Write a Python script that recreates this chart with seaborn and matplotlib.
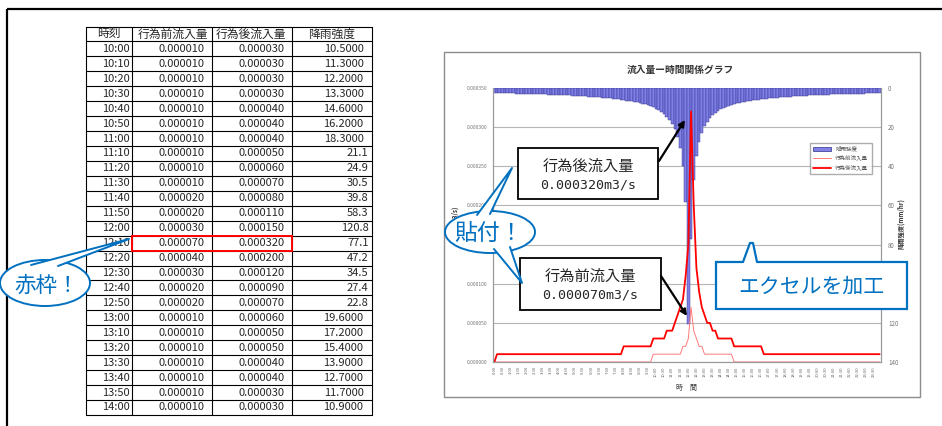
import numpy as np
import pandas as pd
import matplotlib
matplotlib.use("Agg")
import matplotlib.pyplot as plt
import seaborn as sns
from matplotlib.patches import Rectangle, Ellipse, Polygon, Patch
from matplotlib.lines import Line2D
from matplotlib.ticker import FormatStrFormatter

### Data

# table (10:00 - 14:00)
table_header = ["時刻", "行為前流入量", "行為後流入量", "降雨強度"]
table_times = ["10:00", "10:10", "10:20", "10:30", "10:40", "10:50", "11:00", "11:10",
               "11:20", "11:30", "11:40", "11:50", "12:00", "12:10", "12:20", "12:30",
               "12:40", "12:50", "13:00", "13:10", "13:20", "13:30", "13:40", "13:50", "14:00"]
table_before = ["0.000010"] * 10 + ["0.000020", "0.000020", "0.000030", "0.000070",
                "0.000040", "0.000030", "0.000020", "0.000020"] + ["0.000010"] * 7
table_after = ["0.000030", "0.000030", "0.000030", "0.000030", "0.000040", "0.000040",
               "0.000040", "0.000050", "0.000060", "0.000070", "0.000080", "0.000110",
               "0.000150", "0.000320", "0.000200", "0.000120", "0.000090", "0.000070",
               "0.000060", "0.000050", "0.000050", "0.000040", "0.000040", "0.000030",
               "0.000030"]
table_rain = ["10.5000", "11.3000", "12.2000", "13.3000", "14.6000", "16.2000", "18.3000",
              "21.1", "24.9", "30.5", "39.8", "58.3", "120.8", "77.1", "47.2", "34.5",
              "27.4", "22.8", "19.6000", "17.2000", "15.4000", "13.9000", "12.7000",
              "11.7000", "10.9000"]
highlight_row = 13  # 12:10

# chart: every 10 min, 0:00 - 23:50
slot_times = ["{}:{:02d}".format(h, m) for h in range(24) for m in range(0, 60, 10)]

rain = [
    2.6, 2.6, 2.7, 2.7, 2.7, 2.8, 2.8, 2.8, 2.9, 2.9, 2.9, 3.0,
    3.0, 3.1, 3.1, 3.1, 3.2, 3.2, 3.3, 3.3, 3.4, 3.4, 3.5, 3.5,
    3.6, 3.6, 3.7, 3.8, 3.8, 3.9, 4.0, 4.1, 4.1, 4.2, 4.3, 4.4,
    4.5, 4.6, 4.7, 4.8, 4.9, 5.0, 5.2, 5.3, 5.5, 5.6, 5.8, 6.0,
    6.2, 6.4, 6.6, 6.8, 7.1, 7.4, 7.7, 8.0, 8.4, 8.8, 9.3, 9.9,
    10.5, 11.3, 12.2, 13.3, 14.6, 16.2, 18.3, 21.1, 24.9, 30.5, 39.8, 58.3,
    120.8, 77.1, 47.2, 34.5, 27.4, 22.8, 19.6, 17.2, 15.4, 13.9, 12.7, 11.7,
    10.9, 10.2, 9.6, 9.1, 8.6, 8.2, 7.9, 7.5, 7.2, 7.0, 6.7, 6.5,
    6.3, 6.1, 5.9, 5.7, 5.5, 5.4, 5.3, 5.1, 5.0, 4.9, 4.8, 4.6,
    4.5, 4.4, 4.4, 4.3, 4.2, 4.1, 4.0, 4.0, 3.9, 3.8, 3.7, 3.7,
    3.6, 3.6, 3.5, 3.5, 3.4, 3.3, 3.3, 3.3, 3.2, 3.2, 3.1, 3.1,
    3.0, 3.0, 3.0, 2.9, 2.9, 2.9, 2.8, 2.8, 2.8, 2.7, 2.7, 2.7,
]

# flows in 1e-6 m3/s
flow_before_u = [
    0, 0, 0, 0, 0, 0, 0, 0, 0, 0, 0, 0,
    0, 0, 0, 0, 0, 0, 0, 0, 0, 0, 0, 0,
    0, 0, 0, 0, 0, 0, 0, 0, 0, 0, 0, 0,
    0, 0, 0, 0, 0, 0, 0, 0, 0, 0, 0, 0,
    0, 0, 0, 0, 0, 0, 0, 0, 0, 0, 0, 10,
    10, 10, 10, 10, 10, 10, 10, 10, 10, 10, 20, 20,
    30, 70, 40, 30, 20, 20, 10, 10, 10, 10, 10, 10,
    10, 10, 10, 10, 10, 0, 0, 0, 0, 0, 0, 0,
    0, 0, 0, 0, 0, 0, 0, 0, 0, 0, 0, 0,
    0, 0, 0, 0, 0, 0, 0, 0, 0, 0, 0, 0,
    0, 0, 0, 0, 0, 0, 0, 0, 0, 0, 0, 0,
    0, 0, 0, 0, 0, 0, 0, 0, 0, 0, 0, 0,
]
flow_after_u = [
    0, 10, 10, 10, 10, 10, 10, 10, 10, 10, 10, 10,
    10, 10, 10, 10, 10, 10, 10, 10, 10, 10, 10, 10,
    10, 10, 10, 10, 10, 10, 10, 10, 10, 10, 10, 10,
    10, 10, 10, 10, 10, 10, 10, 10, 10, 10, 10, 10,
    20, 20, 20, 20, 20, 20, 20, 20, 20, 20, 20, 30,
    30, 30, 30, 30, 40, 40, 40, 50, 60, 70, 80, 110,
    150, 320, 200, 120, 90, 70, 60, 50, 50, 40, 40, 30,
    30, 30, 30, 30, 30, 20, 20, 20, 20, 20, 20, 20,
    20, 20, 20, 20, 10, 10, 10, 10, 10, 10, 10, 10,
    10, 10, 10, 10, 10, 10, 10, 10, 10, 10, 10, 10,
    10, 10, 10, 10, 10, 10, 10, 10, 10, 10, 10, 10,
    10, 10, 10, 10, 10, 10, 10, 10, 10, 10, 10, 10,
]

df = pd.DataFrame({
    "slot": np.arange(len(slot_times)),
    "rain": rain,
    "before": np.array(flow_before_u) * 1e-6,
    "after": np.array(flow_after_u) * 1e-6,
})

### Style

sns.set_style("white")
plt.rcParams["font.family"] = ["Noto Sans CJK JP", "DejaVu Sans"]

W, H = 942, 426
BLUE = "#0070c0"
fig = plt.figure(figsize=(W / 100, H / 100), dpi=100)

## Chart (right)

ax_rain = fig.add_axes([493 / W, 1 - 362 / H, 388 / W, 274 / H])
sns.barplot(data=df, x="slot", y="rain", ax=ax_rain, color="#8080e6", saturation=1,
            width=1.0, edgecolor="#2e2e86", linewidth=0.3)
ax_rain.set_xlabel("")
ax_rain.set_ylabel("")

ax_flow = ax_rain.twinx()
sns.lineplot(data=df, x="slot", y="before", ax=ax_flow, color="#ff7a7a", lw=0.7)
sns.lineplot(data=df, x="slot", y="after", ax=ax_flow, color="#ff0000", lw=1.3)
ax_flow.set_xlabel("")
ax_flow.set_ylabel("")

# rain on the right (inverted), flow on the left
ax_rain.set_ylim(140, 0)
ax_rain.set_yticks(range(0, 141, 20))
ax_rain.yaxis.tick_right()
ax_rain.yaxis.grid(True, color="#b4b4b4", lw=0.8)
ax_rain.set_axisbelow(True)

ax_flow.set_ylim(0, 0.00035)
ax_flow.set_yticks(np.arange(0, 0.000351, 0.00005))
ax_flow.yaxis.set_major_formatter(FormatStrFormatter("%.6f"))
ax_flow.yaxis.tick_left()

ax_rain.set_xlim(-0.5, len(slot_times) - 0.5)
ax_rain.set_xticks(range(0, len(slot_times), 3))
ax_rain.set_xticklabels(slot_times[::3], rotation=90, fontsize=3, color="#666666")
ax_rain.tick_params(axis="x", length=2, width=0.4, color="#999999", pad=1)
ax_rain.tick_params(axis="y", labelsize=4.5, labelcolor="#777777", length=0, pad=5)
ax_flow.tick_params(axis="y", labelsize=3.6, labelcolor="#777777", length=0, pad=4)

for a in (ax_rain, ax_flow):
    for side, sp in a.spines.items():
        sp.set_color("#999999")
        sp.set_linewidth(0.8)
        sp.set_visible(side != "top")

handles = [Patch(facecolor="#8080e6", edgecolor="#2e2e86", lw=0.5),
           Line2D([], [], color="#ff7a7a", lw=0.7),
           Line2D([], [], color="#ff0000", lw=1.3)]
ax_flow.legend(handles, ["降雨強度", "行為前流入量", "行為後流入量"], loc="upper left",
               bbox_to_anchor=(807 / W, 1 - 140 / H), bbox_transform=fig.transFigure,
               fontsize=4, frameon=True, fancybox=False, edgecolor="#999999",
               handlelength=3.2, handleheight=0.6, borderpad=0.6, labelspacing=0.6,
               labelcolor="#555555")

fig.text(680 / W, 1 - 70 / H, "流入量ー時間関係グラフ", ha="center", va="center",
         fontsize=7, fontweight="bold", color="#333333")
fig.text(687 / W, 1 - 388 / H, "時　間", ha="center", va="center", fontsize=5,
         color="#333333")
fig.text(455 / W, 1 - 222 / H, "流量(m3/s)", ha="center", va="center", rotation=90,
         fontsize=4.5, fontweight="bold", color="#333333")
fig.text(901 / W, 1 - 224 / H, "降雨強度(mm/hr)", ha="center", va="center", rotation=90,
         fontsize=4.5, fontweight="bold", color="#333333")

## Overlay in pixel coordinates

ov = fig.add_axes([0, 0, 1, 1])
ov.set_xlim(0, W)
ov.set_ylim(H, 0)
ov.axis("off")
ov.set_zorder(10)
ov.patch.set_alpha(0)

# page frame
ov.plot([7, 7], [9, H], color="k", lw=1.6, solid_capstyle="butt")
ov.plot([7, W], [9, 9], color="k", lw=1.6, solid_capstyle="butt")

# chart frame
ov.add_patch(Rectangle((444, 52), 476, 345, fill=False, edgecolor="#8c8c8c", lw=1))

# table
col_x = [86, 131.7, 211.7, 291.7, 371.7]
top, row_h = 26.5, 14.94
n_rows = len(table_times) + 1
bottom = top + n_rows * row_h
for i in range(n_rows + 1):
    ov.plot([col_x[0], col_x[-1]], [top + i * row_h] * 2, color="k", lw=0.8)
for x in col_x:
    ov.plot([x, x], [top, bottom], color="k", lw=0.8)

head_cx = [108.8, 173, 250.5, 332]
for cx, t in zip(head_cx, table_header):
    ov.text(cx, top + 0.5 * row_h, t, ha="center", va="center", fontsize=8.5)
for i, (t, b, a, r) in enumerate(zip(table_times, table_before, table_after, table_rain)):
    cy = top + (i + 1.5) * row_h
    ov.text(129.5, cy, t, ha="right", va="center", fontsize=8)
    ov.text(204.5, cy, b, ha="right", va="center", fontsize=8)
    ov.text(284.5, cy, a, ha="right", va="center", fontsize=8)
    ov.text(363.5 if len(r) > 5 else 368.5, cy, r, ha="right", va="center", fontsize=8)

ov.add_patch(Rectangle((col_x[1], top + (highlight_row + 1) * row_h), col_x[3] - col_x[1],
                       row_h, fill=False, edgecolor="#ff0000", lw=1.4, zorder=3))


def bubble(cx, cy, w, h, tails):
    ov.add_patch(Ellipse((cx, cy), w, h, facecolor="white", edgecolor=BLUE, lw=1.4,
                         zorder=4))
    for (b1, b2, tip) in tails:
        ov.add_patch(Polygon([b1, tip, b2], closed=True, facecolor="white",
                             edgecolor="none", zorder=4))
        ov.plot([b1[0], tip[0], b2[0]], [b1[1], tip[1], b2[1]], color=BLUE, lw=1.4,
                zorder=4)


# 赤枠！
bubble(45, 283, 90, 46, [((31, 265), (58, 266), (129, 239))])
ov.text(47, 286, "赤枠！", ha="center", va="center", fontsize=15.5, color=BLUE, zorder=5)

# 貼付！
bubble(490, 232, 90, 42, [((477, 215), (490, 214), (512, 168)),
                          ((494, 249), (510, 247), (522, 283))])
ov.text(489, 233, "貼付！", ha="center", va="center", fontsize=16.5, color=BLUE, zorder=5)

# value boxes
for (x0, y0, x1, y1), name, val, src, dst in [
        ((518, 148, 658, 199), "行為後流入量", "0.000320m3/s", (659, 161), (685, 120)),
        ((520, 258, 661, 310), "行為前流入量", "0.000070m3/s", (661, 276), (687, 316))]:
    ov.add_patch(Rectangle((x0, y0), x1 - x0, y1 - y0, facecolor="white",
                           edgecolor="k", lw=1.3))
    cx = (x0 + x1) / 2
    ov.text(cx, y0 + 18, name, ha="center", va="center", fontsize=11)
    ov.text(cx, y0 + 37, val, ha="center", va="center", fontsize=9.5,
            family="DejaVu Sans Mono")
    ov.annotate("", xy=dst, xytext=src,
                arrowprops=dict(arrowstyle="-|>", color="k", lw=1.6, mutation_scale=9,
                                shrinkA=0, shrinkB=0))

# エクセルを加工
ov.add_patch(Rectangle((716, 262), 191, 47, facecolor="white", edgecolor=BLUE, lw=1.6))
ov.add_patch(Polygon([(743, 264), (750, 243), (753, 243), (757, 264)], closed=True,
                     facecolor="white", edgecolor="none"))
ov.plot([743, 750, 753, 757], [262, 243, 243, 262], color=BLUE, lw=1.6)
ov.text(811, 287, "エクセルを加工", ha="center", va="center", fontsize=15, color=BLUE)

fig.savefig("out.png", dpi=100)
